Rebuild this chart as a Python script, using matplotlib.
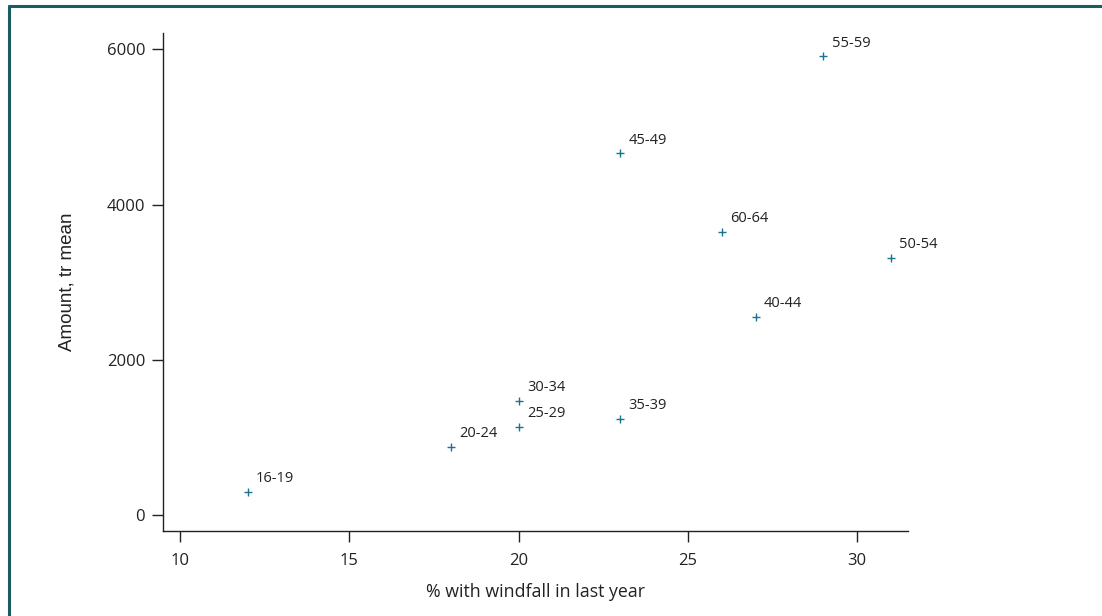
import matplotlib.pyplot as plt
from matplotlib.lines import Line2D

# Age groups: % with windfall vs trimmed mean amount
ages = ["16-19", "20-24", "25-29", "30-34", "35-39", "40-44",
        "45-49", "50-54", "55-59", "60-64"]
pct_windfall = [12, 18, 20, 20, 23, 27, 23, 31, 29, 26]
amount_mean = [300, 875, 1135, 1470, 1235, 2550, 4660, 3310, 5910, 3650]

plt.rcParams["font.family"] = ["Open Sans", "DejaVu Sans"]

fg = plt.figure(figsize=(11.02, 6.16), dpi=100)
ax = fg.add_axes([0.148, 0.138, 0.676, 0.808])

ax.scatter(pct_windfall, amount_mean, marker="+", s=26, lw=1.0, c="#1a7393")

for lab, x, y in zip(ages, pct_windfall, amount_mean):
    ax.annotate(
        lab,
        xy=(x, y),
        xytext=(6, 9.5),
        textcoords="offset points",
        fontsize=10.5,
        color="#222222",
        va="center",
        ha="left",
    )

ax.set_xlim(9.5, 31.5)
ax.set_ylim(-206, 6206)
ax.set_xticks([10, 15, 20, 25, 30])
ax.set_yticks([0, 2000, 4000, 6000])

for s in ["top", "right"]:
    ax.spines[s].set_visible(False)
for s in ["left", "bottom"]:
    ax.spines[s].set_linewidth(1.0)
    ax.spines[s].set_color("#222222")

ax.tick_params(axis="both", direction="out", length=8, width=1.0,
               labelsize=12, colors="#222222")
ax.tick_params(axis="x", pad=8)
ax.tick_params(axis="y", pad=5)

ax.set_xlabel("% with windfall in last year", fontsize=12.8, color="#222222", labelpad=10)
ax.set_ylabel("Amount, tr mean", fontsize=13.5, color="#222222", labelpad=22,
              family="Liberation Sans")

# teal frame on top and left edges
border = "#1b5c63"
fg.add_artist(Line2D([8 / 1102, 1], [1 - 6 / 616, 1 - 6 / 616],
                     transform=fg.transFigure, color=border, lw=2.2,
                     solid_capstyle="butt"))
fg.add_artist(Line2D([9 / 1102, 9 / 1102], [0, 1 - 5 / 616],
                     transform=fg.transFigure, color=border, lw=2.2,
                     solid_capstyle="butt"))

fg.savefig("out.png", dpi=100)
